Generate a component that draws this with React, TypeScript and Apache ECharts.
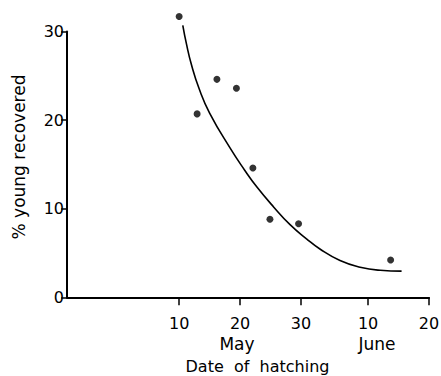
import React, { useEffect, useRef } from "react";
import * as echarts from "echarts";

// Day numbers counted from 0 May (June d = 31 + d)
const hatchDays = [10, 12.95, 16.2, 19.4, 22.1, 24.9, 29.6, 44.7];
const pctRecovered = [31.7, 20.7, 24.6, 23.6, 14.6, 8.8, 8.3, 4.2];

const curveDays = [10.6, 11.2, 12.0, 13.3, 15.0, 18.4, 20.7, 22.7, 25.5, 28.2, 30.9, 33.1, 36.4, 39.7, 43.0, 46.5];
const curvePct = [30.7, 28.6, 26.3, 23.5, 20.8, 16.8, 14.4, 12.5, 10.2, 8.2, 6.6, 5.45, 4.15, 3.4, 3.05, 2.95];

const xTickValues = [10, 20, 30, 41, 51];
const xTickLabels = ["10", "20", "30", "10", "20"];
const monthLabels = ["May", "June"];
const yTicks = [0, 10, 20, 30];

const FONT = "DejaVu Sans";

export default function App() {
  const ref = useRef<HTMLDivElement>(null);
  useEffect(() => {
    if (!ref.current) return;
    const chart = echarts.init(ref.current, null, { renderer: "svg" });
    const text = (t: string, x: number, y: number, size: number, rot = 0) => ({
      type: "text",
      x,
      y,
      rotation: rot,
      style: {
        text: t,
        fontSize: size,
        fontFamily: FONT,
        fill: "#000",
        align: "center",
        verticalAlign: "middle",
      },
    });
    chart.setOption({
      animation: false,
      backgroundColor: "#fff",
      grid: { left: 67, right: 12, top: 31.5, bottom: 78.7, outerBoundsMode: "none", containLabel: false },
      xAxis: {
        type: "value",
        min: -8.4,
        max: 51,
        axisLine: { onZero: false, lineStyle: { color: "#000", width: 2 } },
        axisTick: { customValues: xTickValues, length: 8, lineStyle: { color: "#000", width: 1.5 } },
        axisLabel: {
          customValues: xTickValues,
          formatter: (v: number) => xTickLabels[xTickValues.indexOf(v)] ?? "",
          color: "#000",
          fontSize: 16,
          fontFamily: FONT,
          margin: 18,
        },
        splitLine: { show: false },
      },
      yAxis: {
        type: "value",
        min: 0,
        max: 30,
        interval: 10,
        axisLine: { show: true, onZero: false, lineStyle: { color: "#000", width: 2 } },
        axisTick: { show: true, length: 6, lineStyle: { color: "#000", width: 1.5 } },
        axisLabel: {
          color: "#000",
          fontSize: 16,
          fontFamily: FONT,
          margin: 3,
          formatter: (v: number) => (yTicks.includes(v) ? String(v) : ""),
        },
        splitLine: { show: false },
      },
      series: [
        {
          type: "line",
          data: curveDays.map((d, i) => [d, curvePct[i]]),
          smooth: 0.5,
          showSymbol: false,
          clip: false,
          lineStyle: { color: "#000", width: 1.6 },
          silent: true,
        },
        {
          type: "scatter",
          data: hatchDays.map((d, i) => [d, pctRecovered[i]]),
          symbolSize: 7,
          clip: false,
          itemStyle: { color: "#000" },
        },
      ],
      graphic: [
        text(monthLabels[0], 237, 344, 17),
        text(monthLabels[1], 377, 344, 17),
        text("Date  of  hatching", 257.5, 366, 16),
        text("% young recovered", 19, 157, 17, Math.PI / 2),
      ],
    });
    return () => chart.dispose();
  }, []);
  return <div ref={ref} style={{ position: "fixed", left: 0, top: 0, width: 441, height: 376 }} />;
}
